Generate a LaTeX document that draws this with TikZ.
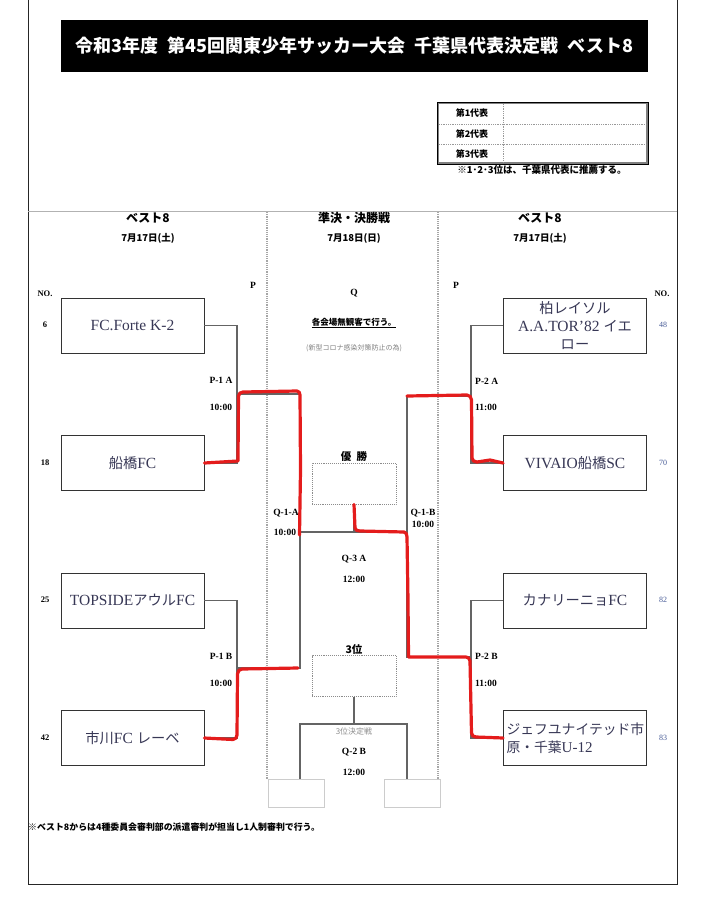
\documentclass[tikz,border=0pt]{standalone}
\usepackage{fontspec}
\setmainfont{Liberation Serif}
\newfontfamily\jp{Noto Sans CJK JP}
\newfontfamily\jpt[Scale=0.92]{Noto Sans CJK JP}
\definecolor{teamc}{RGB}{55,55,85}
\definecolor{hlred}{RGB}{228,28,28}
\definecolor{numc}{RGB}{70,90,150}
\definecolor{linec}{RGB}{100,100,100}
\begin{document}
\begin{tikzpicture}[x=1pt,y=-1pt,
  team/.style={draw=black!80, line width=0.9pt, minimum width=143pt, minimum height=55pt, inner sep=2pt, font=\fontsize{15.5}{18}\selectfont, text=teamc, align=center},
  conn/.style={draw=linec, line width=1.1pt},
  hl/.style={draw=hlred, line width=3.2pt, line cap=round, line join=round},
  lab/.style={font=\fontsize{9.5}{11}\selectfont\bfseries, inner sep=0pt},
  num/.style={font=\fontsize{8.5}{10}\selectfont\bfseries, inner sep=0pt},
  rnum/.style={font=\fontsize{8}{10}\selectfont, text=numc, inner sep=0pt},
  hdr/.style={font=\fontsize{12}{14}\selectfont\jp\bfseries, inner sep=0pt},
  date/.style={font=\fontsize{9.5}{11}\selectfont\jp\bfseries, inner sep=0pt},
  resbox/.style={draw=black!45, densely dotted, line width=0.9pt, minimum width=84pt, minimum height=41pt, inner sep=0pt},
  emptybox/.style={draw=black!20, line width=0.9pt, minimum width=56pt, minimum height=28pt, inner sep=0pt},
  divline/.style={draw=black!35, densely dotted, line width=1.2pt}]
\useasboundingbox (0,0) rectangle (704,899);
% frame
\draw[black!85, line width=1pt] (28,0) -- (28,884) -- (677,884) -- (677,0);
% title
\node[fill=black, minimum width=587pt, minimum height=52pt, inner sep=0pt, text=white, font=\fontsize{18}{20}\selectfont\jp\bfseries] (title) at (354.5,46) {令和3年度\enspace 第45回関東少年サッカー大会\enspace 千葉県代表決定戦\enspace ベスト8};
% representative table
\draw[black!50, line width=1.8pt] (438,103) rectangle (647,163);
\draw[black, line width=0.6pt] (437,102) rectangle (648,164);
\draw[black!40, densely dotted, line width=0.8pt] (439,124) -- (646,124) (439,144) -- (646,144) (503,104) -- (503,162);
\node[font=\fontsize{9}{11}\selectfont\jp\bfseries, inner sep=0pt] (r1) at (472,113.5) {第1代表};
\node[font=\fontsize{9}{11}\selectfont\jp\bfseries, inner sep=0pt] (r2) at (472,134) {第2代表};
\node[font=\fontsize{9}{11}\selectfont\jp\bfseries, inner sep=0pt] (r3) at (472,154) {第3代表};
\node[font=\fontsize{9.5}{11}\selectfont\jp\bfseries, inner sep=0pt] (rnote) at (542,170) {※1･2･3位は、千葉県代表に推薦する。};
% dividers
\draw[black!30, line width=0.8pt] (28,211) -- (677,211);
\draw[divline] (267,212) -- (267,779);
\draw[divline] (438,212) -- (438,779);
% headers
\node[hdr] (hL) at (148,218) {ベスト8};
\node[date] (dL) at (148,238) {7月17日(土)};
\node[hdr] (hC) at (354,218) {準決・決勝戦};
\node[date] (dC) at (354,238) {7月18日(日)};
\node[hdr] (hR) at (540,218) {ベスト8};
\node[date] (dR) at (540,238) {7月17日(土)};
\node[num] (noL) at (45,294) {NO.};
\node[num] (noR) at (662,294) {NO.};
\node[lab] (pL) at (253,285) {P};
\node[lab] (qC) at (354,293) {Q};
\node[lab] (pR) at (456,285) {P};
\node[font=\fontsize{8.5}{10}\selectfont\jp\bfseries, inner sep=0pt] (note1) at (354,323) {\underline{各会場無観客で行う。}};
\node[font=\fontsize{7}{9}\selectfont\jp, text=black!50, inner sep=0pt] (note2) at (354,348) {(新型コロナ感染対策防止の為)};
% left teams
\node[team] (L1) at (132.5,325.5) {FC.Forte K-2};
\node[team] (L2) at (132.5,463) {{\jpt 船橋}FC};
\node[team] (L3) at (132.5,600.5) {TOPSIDE{\jpt アウル}FC};
\node[team] (L4) at (132.5,738) {{\jpt 市川}FC {\jpt レーベ}};
\node[num] (n6) at (45,325) {6};
\node[num] (n18) at (45,463) {18};
\node[num] (n25) at (45,600) {25};
\node[num] (n42) at (45,738) {42};
% right teams
\node[team] (R1) at (575,325.5) {{\jpt 柏レイソル}\\A.A.TOR’82 {\jpt イエ}\\{\jpt ロー}};
\node[team] (R2) at (575,463) {VIVAIO{\jpt 船橋}SC};
\node[team] (R3) at (575,600.5) {{\jpt カナリーニョ}FC};
\node[team, align=left, text width=137pt, font=\fontsize{15}{18}\selectfont] (R4) at (575,738) {{\jpt ジェフユナイテッド市}\\{\jpt 原・千葉}U-12};
\node[rnum] (n48) at (663,325) {48};
\node[rnum] (n70) at (663,463) {70};
\node[rnum] (n82) at (663,600) {82};
\node[rnum] (n83) at (663,738) {83};
% bracket coordinates
\coordinate (p1a) at (237,394);
\coordinate (p1b) at (237,668);
\coordinate (q1aT) at (300,394);
\coordinate (q1aB) at (300,668);
\coordinate (p2a) at (471,396);
\coordinate (p2b) at (471,657);
\coordinate (q1bT) at (407,396);
\coordinate (q1bB) at (407,657);
\coordinate (fL) at (300,532);
\coordinate (fR) at (407,532);
\coordinate (fM) at (354,532);
\coordinate (tL) at (300,724);
\coordinate (tR) at (407,724);
\coordinate (tM) at (354,724);
\coordinate (tLb) at (300,779);
\coordinate (tRb) at (407,779);
% connectors
\draw[conn] (L1.east) -| (p1a) |- (L2.east);
\draw[conn] (L3.east) -| (p1b) |- (L4.east);
\draw[conn] (R1.west) -| (p2a) |- (R2.west);
\draw[conn] (R3.west) -| (p2b) |- (R4.west);
\draw[conn] (p1a) -- (q1aT) -- (q1aB) -- (p1b);
\draw[conn] (p2a) -- (q1bT) -- (q1bB) -- (p2b);
\draw[conn] (fL) -- (fR);
% final / third place
\node[font=\fontsize{10.5}{12}\selectfont\jp\bfseries, inner sep=0pt] (winl) at (354,457) {優\enspace 勝};
\node[resbox] (WIN) at (354,483.5) {};
\draw[conn] (WIN.south) -- (fM);
\node[font=\fontsize{10.5}{12}\selectfont\jp\bfseries, inner sep=0pt] (thl) at (354,649) {3位};
\node[resbox] (TH) at (354,676) {};
\draw[conn] (TH.south) -- (tM);
\draw[conn] (tLb) -- (tL) -- (tR) -- (tRb);
\node[emptybox] (BL) at (296,793) {};
\node[emptybox] (BR) at (412,793) {};
% labels
\node[lab] (lp1a) at (221,380) {P-1 A};
\node[lab] (tp1a) at (221,407) {10:00};
\node[lab] (lp1b) at (221,656) {P-1 B};
\node[lab] (tp1b) at (221,683) {10:00};
\node[lab, anchor=west] (lp2a) at (475,381) {P-2 A};
\node[lab, anchor=west] (tp2a) at (475,407) {11:00};
\node[lab, anchor=west] (lp2b) at (475,656) {P-2 B};
\node[lab, anchor=west] (tp2b) at (475,683) {11:00};
\node[lab] (lq1a) at (286,513) {Q-1-A};
\node[lab] (tq1a) at (285,532) {10:00};
\node[lab] (lq1b) at (423,513) {Q-1-B};
\node[lab] (tq1b) at (423,524) {10:00};
\node[lab] (lq3) at (354,559) {Q-3 A};
\node[lab] (tq3) at (354,579) {12:00};
\node[font=\fontsize{8}{10}\selectfont\jp, text=black!45, inner sep=0pt] (thn) at (354,731) {3位決定戦};
\node[lab] (lq2) at (354,752) {Q-2 B};
\node[lab] (tq2) at (354,772) {12:00};
% footnote
\node[font=\fontsize{8.9}{10}\selectfont\jp\bfseries, anchor=west, inner sep=0pt] (foot) at (28,827) {※ベスト8からは4種委員会審判部の派遣審判が担当し1人制審判で行う。};
% red highlights
\draw[hl] (L2.east) -- (238,461) -- (238.5,396) to[out=90,in=180] (243,392) -- (297,391) to[out=0,in=90] (300,395) -- (300.5,470) -- (299.5,535);
\draw[hl] (L4.east) -- (233,739.5) to[out=0,in=-90] (237,735) -- (237.5,674) to[out=90,in=180] (242,669) -- (298,668);
\draw[hl] (WIN.south) -- (355,528) to[out=-90,in=180] (360,531) -- (404,532) to[out=0,in=90] (407,537) -- (408,600) -- (408.5,657) -- (466,657) to[out=0,in=90] (470,661) -- (471.5,733) to[out=-90,in=180] (476,737) -- (R4.west);
\draw[hl] (q1bT) -- (467,395) to[out=0,in=90] (471.5,400) -- (472,458) to[out=-90,in=180] (477,462) -- (490,460) -- (R2.west);
\end{tikzpicture}
\end{document}
